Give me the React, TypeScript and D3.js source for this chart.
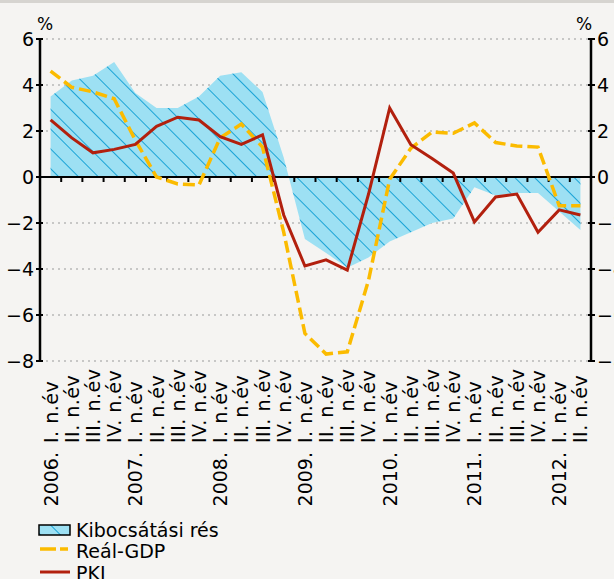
import React from 'react'
import * as d3 from 'd3'

const years = ['2006.', '2007.', '2008.', '2009.', '2010.', '2011.', '2012.']
const quarterNames = ['I. n.év', 'II. n.év', 'III. n.év', 'IV. n.év']

// Kibocsátási rés
const gap = [
  3.5, 4.2, 4.4, 5.0,
  3.65, 3.0, 3.0, 3.5,
  4.4, 4.55, 3.7, 0.85,
  -2.7, -3.3, -3.95, -3.5,
  -2.8, -2.4, -2.0, -1.8,
  -0.45, -0.8, -0.7, -0.7,
  -1.5, -2.3
]
// Reál-GDP
const gdp = [
  4.6, 3.9, 3.7, 3.4,
  1.6, 0.0, -0.3, -0.35,
  1.7, 2.3, 1.3, -2.4,
  -6.8, -7.7, -7.6, -4.5,
  -0.1, 1.25, 1.95, 1.9,
  2.35, 1.5, 1.35, 1.3,
  -1.25, -1.25
]
// PKI
const pki = [
  2.48, 1.7, 1.05, 1.2,
  1.42, 2.2, 2.6, 2.48,
  1.75, 1.42, 1.83, -1.65,
  -3.87, -3.6, -4.05, -0.75,
  3.0, 1.4, 0.8, 0.17,
  -1.95, -0.87, -0.74, -2.4,
  -1.43, -1.65
]
const yTicks = [6, 4, 2, 0, -2, -4, -6, -8]

const W = 614
const H = 579
const left = 40
const right = 591
const top = 39
const bottom = 361

const BLUE = '#9de0f3'
const HATCH = '#1aa3d6'
const YELLOW = '#fbbb00'
const RED = '#b2200e'
const FONT = '"DejaVu Sans", Verdana, sans-serif'

const App = () => {
  const idx = gap.map((_, i) => i)
  const x = d3.scaleBand<number>().domain(idx).range([left, right]).padding(0)
  const cx = (i: number) => (x(i) as number) + x.bandwidth() / 2
  const y = d3.scaleLinear().domain([-8, 6]).range([bottom, top])

  const area = d3
    .area<number>()
    .x((_, i) => cx(i))
    .y0(y(0))
    .y1(d => y(d))
  const line = d3
    .line<number>()
    .x((_, i) => cx(i))
    .y(d => y(d))

  const fmt = (v: number) => (v < 0 ? '\u2212' + Math.abs(v) : String(v))

  return (
    <svg width={W} height={H} style={{ position: 'absolute', left: 0, top: 0, fontFamily: FONT }}>
      <defs>
        <pattern id='hatch' patternUnits='userSpaceOnUse' width={14} height={14} patternTransform='rotate(-45)'>
          <line x1={0} y1={0} x2={0} y2={14} stroke={HATCH} strokeWidth={2} />
        </pattern>
      </defs>
      <rect x={0} y={0} width={W} height={H} fill='#f5f4f2' />
      <rect x={0} y={0} width={W} height={3} fill='#d6d4d0' />

      {/* grid */}
      {yTicks
        .filter(v => v !== 0)
        .map(v => (
          <line key={v} x1={left} x2={right} y1={y(v)} y2={y(v)} stroke='#9a9a9a' strokeWidth={1.2} strokeDasharray='2,4' />
        ))}

      {/* output gap */}
      <path d={area(gap) || ''} fill={BLUE} />
      <path d={area(gap) || ''} fill='url(#hatch)' />

      {/* zero line and ticks */}
      <line x1={left} x2={right} y1={y(0)} y2={y(0)} stroke='#000' strokeWidth={2} />
      {idx.slice(1).map(i => (
        <line key={i} x1={x(i)} x2={x(i)} y1={y(0)} y2={y(0) + 5} stroke='#000' strokeWidth={2} />
      ))}

      {/* axes */}
      <line x1={left} x2={left} y1={top - 1} y2={bottom + 1} stroke='#000' strokeWidth={2.5} />
      <line x1={right} x2={right} y1={top - 1} y2={bottom + 1} stroke='#000' strokeWidth={2.5} />
      {yTicks.map(v => (
        <g key={v}>
          <line x1={left - 4} x2={left + 3} y1={y(v)} y2={y(v)} stroke='#000' strokeWidth={2} />
          <line x1={right - 3} x2={right + 4} y1={y(v)} y2={y(v)} stroke='#000' strokeWidth={2} />
          <text x={34} y={y(v) + 7} fontSize={19} textAnchor='end'>
            {fmt(v)}
          </text>
          <text x={597} y={y(v) + 7} fontSize={19} textAnchor='start'>
            {fmt(v)}
          </text>
        </g>
      ))}
      <text x={45} y={30} fontSize={17} textAnchor='middle'>%</text>
      <text x={584} y={30} fontSize={17} textAnchor='middle'>%</text>

      {/* lines */}
      <path d={line(gdp) || ''} fill='none' stroke={YELLOW} strokeWidth={3.5} strokeDasharray='12,5' />
      <path d={line(pki) || ''} fill='none' stroke={RED} strokeWidth={3} strokeLinejoin='miter' />

      {/* x labels */}
      {idx.map(i => (
        <g key={i}>
          <text
            transform={`translate(${cx(i) + 7},443) rotate(-90)`}
            fontSize={19}
            letterSpacing={0.5}
            textAnchor='start'
          >
            {quarterNames[i % 4]}
          </text>
          {i % 4 === 0 && (
            <text transform={`translate(${cx(i) + 7},452) rotate(-90)`} fontSize={19} textAnchor='end'>
              {years[i / 4]}
            </text>
          )}
        </g>
      ))}

      {/* legend */}
      <rect x={39} y={525} width={31} height={10} fill={BLUE} />
      <rect x={39} y={525} width={31} height={10} fill='url(#hatch)' stroke='#000' strokeWidth={1.5} />
      <text x={76} y={537} fontSize={19}>Kibocsátási rés</text>
      <line x1={40} x2={70} y1={549} y2={549} stroke={YELLOW} strokeWidth={3.5} strokeDasharray='16,4,8,4' />
      <text x={76} y={558} fontSize={19}>Reál-GDP</text>
      <line x1={40} x2={70} y1={572} y2={572} stroke={RED} strokeWidth={3} />
      <text x={76} y={580} fontSize={19}>PKI</text>
    </svg>
  )
}

export default App
